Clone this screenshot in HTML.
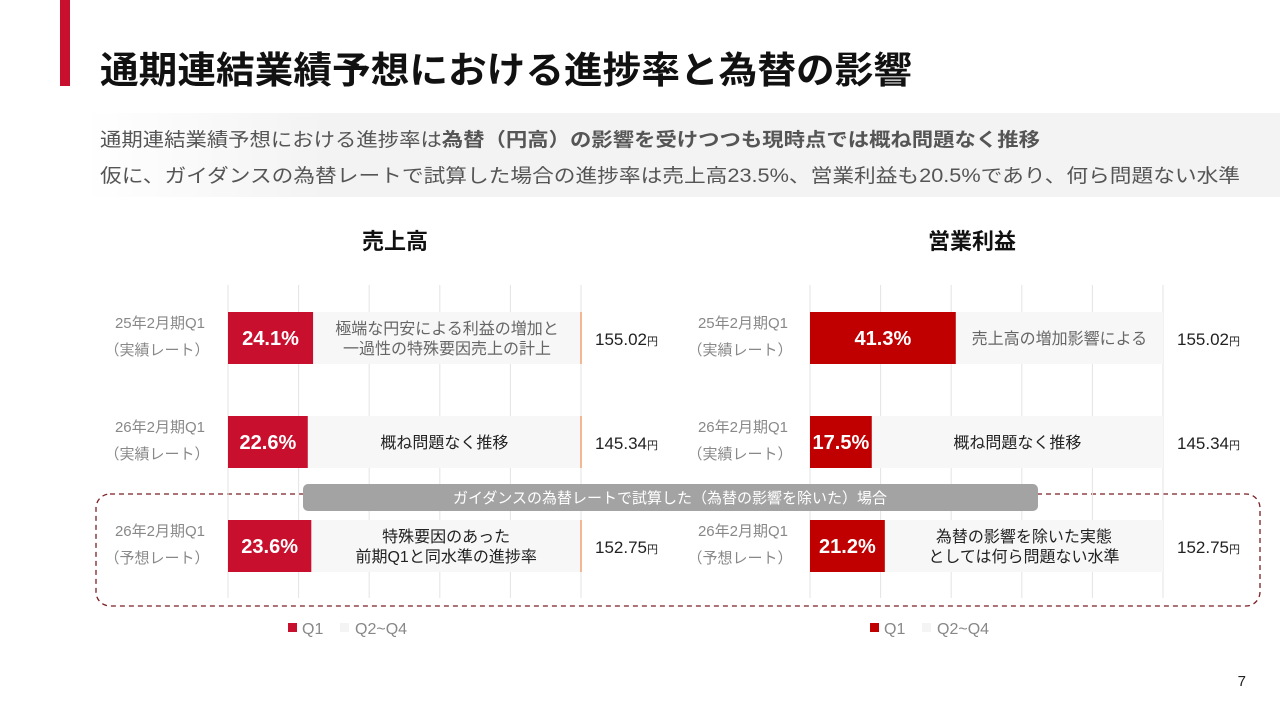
<!DOCTYPE html>
<html><head><meta charset="utf-8">
<style>
html,body{margin:0;padding:0;background:#fff;}
svg{display:block;font-family:"Liberation Sans","Noto Sans CJK JP",sans-serif;}
</style></head>
<body>
<svg id="s" width="1280" height="720" viewBox="0 0 1280 720">
<defs>
<linearGradient id="g" x1="0" x2="1" y1="0" y2="0">
<stop offset="0" stop-color="#f3f3f3" stop-opacity="0"/>
<stop offset="0.2" stop-color="#f3f3f3" stop-opacity="1"/>
<stop offset="1" stop-color="#f3f3f3"/>
</linearGradient>
</defs>
<rect x="60" y="0" width="10" height="86" fill="#c8102e"/>
<text x="100" y="83" font-size="37" font-weight="bold" fill="#111" textLength="812" lengthAdjust="spacingAndGlyphs">通期連結業績予想における進捗率と為替の影響</text>
<rect x="85" y="113" width="1195" height="84" fill="url(#g)"/>
<text x="100" y="146" font-size="19" fill="#555" textLength="940" lengthAdjust="spacingAndGlyphs">通期連結業績予想における進捗率は<tspan font-weight="bold">為替（円高）の影響を受けつつも現時点では概ね問題なく推移</tspan></text>
<text x="100" y="182" font-size="19" fill="#555" textLength="1140" lengthAdjust="spacingAndGlyphs">仮に、ガイダンスの為替レートで試算した場合の進捗率は売上高23.5%、営業利益も20.5%であり、何ら問題ない水準</text>
<text x="395" y="249" font-size="22" font-weight="bold" fill="#111" text-anchor="middle">売上高</text>
<text x="972" y="249" font-size="22" font-weight="bold" fill="#111" text-anchor="middle">営業利益</text>
<rect x="96" y="494" width="1164" height="112" rx="14" fill="none" stroke="#7b1f24" stroke-width="1.3" stroke-dasharray="5,4"/>
<g id="charts"></g>
<rect x="303" y="484" width="735" height="27" rx="5" fill="#a3a3a3"/>
<text x="670" y="503" font-size="15" fill="#fff" text-anchor="middle">ガイダンスの為替レートで試算した（為替の影響を除いた）場合</text>
<text x="1246" y="686" font-size="15" fill="#222" text-anchor="end">7</text>
</svg>
<script>
const categories = ["25年2月期Q1", "26年2月期Q1", "26年2月期Q1"];
const rateLabels = ["（実績レート）", "（実績レート）", "（予想レート）"];
const salesQ1 = [24.1, 22.6, 23.6];
const profitQ1 = [41.3, 17.5, 21.2];
const fxRates = ["155.02", "145.34", "152.75"];
const salesNotes = [["極端な円安による利益の増加と","一過性の特殊要因売上の計上"],["概ね問題なく推移"],["特殊要因のあった","前期Q1と同水準の進捗率"]];
const profitNotes = [["売上高の増加影響による"],["概ね問題なく推移"],["為替の影響を除いた実態","としては何ら問題ない水準"]];
const ticks = [0, 20, 40, 60, 80, 100];

const NS = "http://www.w3.org/2000/svg";
const root = document.getElementById('charts');
function mk(tag, attrs, parent){const e=document.createElementNS(NS,tag);for(const k in attrs)e.setAttribute(k,attrs[k]);(parent||root).appendChild(e);return e;}
const rowY = [312, 416, 520], barH = 52;

function chart(name, x0, x1, vals, notes, color, labelX, endLine){
  const g = mk('g', {});
  
  
  const xs = v => x0 + (x1 - x0) * v / 100;
  ticks.forEach(t => {
    const l = mk('line', {x1: xs(t), x2: xs(t), y1: 285, y2: 598, stroke: '#e3e3e3', 'stroke-width': 1}, g);
    
    
  });
  vals.forEach((v, i) => {
    const y = rowY[i];
    const bg = mk('rect', {x: xs(v), y: y, width: xs(100) - xs(v), height: barH, fill: '#f7f7f7'}, g);
    
    
    if (endLine) {
      const el = mk('line', {x1: xs(100), x2: xs(100), y1: y, y2: y + barH, stroke: '#f0a070', 'stroke-width': 1.5}, g);
      
      
    }
    const b = mk('rect', {x: xs(0), y: y, width: xs(v) - xs(0), height: barH, fill: color}, g);
    
    
    const t = mk('text', {x: (xs(0) + xs(v)) / 2, y: y + 33, 'font-size': 20, 'font-weight': 'bold', fill: '#fff', 'text-anchor': 'middle'}, g);
    t.textContent = v.toFixed(1) + '%';
    
    
    const nx = (xs(v) + xs(100)) / 2;
    const n = notes[i];
    n.forEach((line, j) => {
      const ty = n.length === 1 ? y + 32 : y + 22 + j * 20;
      const nt = mk('text', {x: nx, y: ty, 'font-size': 16, fill: i === 0 ? '#666' : '#222', 'text-anchor': 'middle'}, g);
      nt.textContent = line;
      
      
    });
    const c1 = mk('text', {x: labelX, y: y + 16, 'font-size': 15, fill: '#888', 'text-anchor': 'middle'}, g);
    c1.textContent = categories[i];
    
    
    const c2 = mk('text', {x: labelX - 3, y: y + 43, 'font-size': 15, fill: '#888', 'text-anchor': 'middle'}, g);
    c2.textContent = rateLabels[i];
    
    
    const r = mk('text', {x: xs(100) + 14, y: y + 33, 'font-size': 17, fill: '#222'}, g);
    r.innerHTML = fxRates[i] + '<tspan font-size="11">円</tspan>';
    
    
  });
  const lx = xs(17);
  const ls = mk('rect', {x: lx, y: 623, width: 9, height: 9, fill: color}, g);
  
  
  const lt = mk('text', {x: lx + 14, y: 634, 'font-size': 16, fill: '#888'}, g);
  lt.textContent = 'Q1';
  
  
  const ls2 = mk('rect', {x: lx + 52, y: 623, width: 9, height: 9, fill: '#f4f4f4'}, g);
  
  
  const lt2 = mk('text', {x: lx + 67, y: 634, 'font-size': 16, fill: '#888'}, g);
  lt2.textContent = 'Q2~Q4';
  
  
}
chart('sales', 228, 581, salesQ1, salesNotes, '#c8102e', 160, true);
chart('operating-profit', 810, 1163, profitQ1, profitNotes, '#c00000', 743, false);
</script>
</body></html>
